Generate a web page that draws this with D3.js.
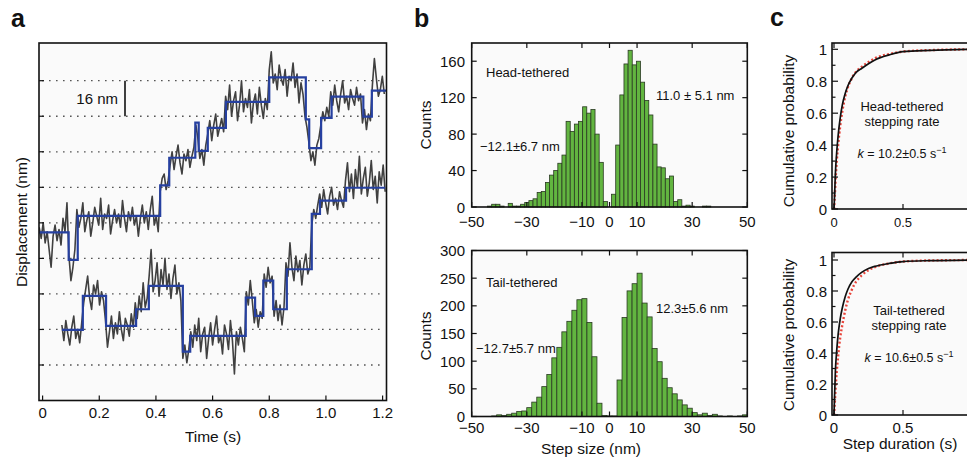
<!DOCTYPE html>
<html><head><meta charset="utf-8">
<script src="https://cdn.jsdelivr.net/npm/d3@7"></script>
<style>
body{margin:0;background:#fff}
text{font-family:"Liberation Sans",Arial,Helvetica,sans-serif;fill:#111}
</style>
</head><body>
<svg id="fig" width="967" height="464"></svg>
<script>
// ---------------- DATA ----------------
// Panel a: raw displacement traces (nm), uniform sampling
const trace1Start = -0.012, trace1Dt = 0.007;
const trace1 = [62,57,64,55,60,52,44,58,63,56,61,54,66,60,73,
  49,38,44,52,
  70,62,66,73,60,65,69,58,64,71,67,63,75,61,68,66,72,59,65,70,64,68,62,74,66,60,69,65,71,63,67,58,66,72,64,69,61,70,76,63,67,60,
  78,84,86,79,83,
  90,96,88,94,99,91,86,95,92,97,89,94,98,
  108,
  102,93,97,90,99,
  104,110,101,108,113,103,107,111,105,
  121,115,126,112,119,123,110,117,128,114,120,116,124,109,118,122,113,125,117,111,120,115,
  133,141,127,131,124,135,129,126,133,121,130,128,136,125,131,118,127,122,
  112,107,
  100,92,96,90,99,102,
  108,114,110,116,112,
  123,117,126,119,114,122,128,118,121,115,124,120,117,125,119,122,
  109,115,106,113,110,
  126,138,129,121,124,130,122];
const trace2Start = 0.068, trace2Dt = 0.007;
const trace2 = [18,11,20,14,9,17,22,12,16,10,19,
  28,34,40,30,25,36,32,38,27,33,29,
  20,8,15,22,12,19,14,24,16,11,21,18,13,23,17,
  28,21,31,24,37,26,30,
  40,52,33,38,46,31,43,36,48,34,41,30,39,45,32,37,29,
  3,9,1,7,
  15,8,18,11,21,6,14,17,3,12,19,9,16,22,10,13,5,18,14,7,20,11,-4,15,9,17,12,6,
  33,27,38,29,
  19,25,17,24,21,
  41,35,44,37,40,
  22,29,20,27,18,26,
  46,40,55,44,38,49,42,47,36,45,50,41,44,
  63,70,66,72,
  77,71,79,73,68,76,80,72,75,70,78,74,71,
  83,91,78,86,75,88,80,94,77,84,89,76,82,92,79,85,73,87,81,90,78];
// step fits (time of each step start, level in nm; last entry = trace end)
const fit1Time  = [-0.0127,0.092,0.124,0.415,0.447,0.539,0.551,0.583,0.647,0.800,0.929,0.941,0.983,1.020,1.132,1.162,1.214];
const fit1Level = [59.7,47.3,67.1,80.9,93.3,109.1,96.4,106.8,118.5,129.5,110.6,97.6,111.3,120.8,111.8,123.5,123.5];
const fit2Time  = [0.068,0.142,0.224,0.330,0.375,0.495,0.521,0.717,0.750,0.779,0.814,0.862,0.950,0.979,1.071,1.209];
const fit2Level = [15.8,31.1,17.6,25.1,35.6,6.0,13.1,30.3,22.1,38.0,25.1,43.1,68.0,74.0,79.8,79.8];
const timeTicks = [0,0.2,0.4,0.6,0.8,1.0,1.2];
const gridNm = [0,16,32,48,64,80,96,112,128];

// Panel b: step-size histograms
const headBinStart = -43.5, headBinWidth = 1.5;
const headCounts = [1,3,3,1,0,4,1,1,3,5, 7,9,16,17,27,35,40,48,57,94, 83,91,94,110,103,107,80,49,6,0,
  14,68,123,157,172,156,160,137,117,101, 69,44,43,31,34,6,8,1,2,1, 0,0,1,1];
const tailBinStart = -43.68, tailBinWidth = 1.82;
const tailCounts = [0,1,3,2,4,6,9,10,16,26, 35,54,76,106,125,153,172,192,211,213, 170,108,24,2,1,1,66,179,227,240,
  259,205,180,123,99,69,52,41,30,21, 15,7,3,6,2,4,1,0,1,0, 1,3];
const stepTicks = [-50,-30,-10,0,10,30,50];
const headYTicks = [0,40,80,120,160];
const tailYTicks = [0,50,100,150,200,250,300];

// Panel c: cumulative probability of step durations
const cdfHeadT = [0,0.004,0.01,0.02,0.03,0.045,0.06,0.08,0.1,0.13,0.16,0.2,0.25,0.3,0.4,0.5,0.7,1.0];
const cdfHeadP = [0,0.08,0.22,0.36,0.46,0.57,0.65,0.72,0.77,0.82,0.855,0.88,0.91,0.935,0.965,0.985,0.993,1.0];
const fitHeadT = [0,0.004,0.01,0.02,0.03,0.045,0.06,0.08,0.1,0.13,0.16,0.2,0.25,0.3,0.4,0.5,0.7,1.0];
const fitHeadP = [0,0.05,0.16,0.3,0.4,0.52,0.61,0.7,0.76,0.82,0.86,0.89,0.92,0.945,0.97,0.986,0.995,1.0];
const cdfTailT = [0,0.004,0.01,0.02,0.03,0.045,0.06,0.08,0.1,0.13,0.16,0.2,0.25,0.3,0.4,0.5,0.7,1.0];
const cdfTailP = [0,0.12,0.28,0.42,0.52,0.62,0.69,0.76,0.81,0.86,0.89,0.92,0.945,0.96,0.978,0.99,0.996,1.0];
const fitTailT = [0,0.004,0.01,0.02,0.03,0.045,0.06,0.08,0.1,0.13,0.16,0.2,0.25,0.3,0.4,0.5,0.7,1.0];
const fitTailP = [0,0.05,0.15,0.28,0.38,0.5,0.58,0.67,0.74,0.81,0.86,0.9,0.935,0.955,0.978,0.99,0.997,1.0];
const probTicks = [0,0.2,0.4,0.6,0.8,1];
const probMinor = [0.1,0.3,0.5,0.7,0.9];
const durTicks = [0,0.5,1];

// ---------------- DRAW ----------------
const svg = d3.select("#fig");
const BG = "#fafafa";

function frame(x0,y0,x1,y1){
  svg.append("rect").attr("x",x0).attr("y",y0).attr("width",x1-x0).attr("height",y1-y0)
    .attr("fill",BG).attr("stroke","none");
}
function border(x0,y0,x1,y1){
  svg.append("rect").attr("x",x0).attr("y",y0).attr("width",x1-x0).attr("height",y1-y0)
    .attr("fill","none").attr("stroke","#111").attr("stroke-width",1.6);
}
function ticksX(scale, vals, y, len){
  svg.append("g").selectAll("line").data(vals).join("line")
    .attr("x1",d=>scale(d)).attr("x2",d=>scale(d)).attr("y1",y).attr("y2",y+len)
    .attr("stroke","#111").attr("stroke-width",1.2);
}
function ticksY(scale, vals, x, len){
  svg.append("g").selectAll("line").data(vals).join("line")
    .attr("y1",d=>scale(d)).attr("y2",d=>scale(d)).attr("x1",x).attr("x2",x+len)
    .attr("stroke","#111").attr("stroke-width",1.2);
}
function labelsX(scale, vals, y, fmt, size){
  svg.append("g").selectAll("text").data(vals).join("text")
    .attr("x",d=>scale(d)).attr("y",y).attr("text-anchor","middle")
    .attr("dominant-baseline","central").attr("font-size",size||15).text(fmt);
}
function labelsY(scale, vals, x, fmt, size){
  svg.append("g").selectAll("text").data(vals).join("text")
    .attr("x",x).attr("y",d=>scale(d)).attr("text-anchor","end")
    .attr("dominant-baseline","central").attr("font-size",size||15).text(fmt);
}
function vlabel(text,x,y,size){
  svg.append("text").attr("transform",`translate(${x},${y}) rotate(-90)`)
    .attr("text-anchor","middle").attr("dominant-baseline","central")
    .attr("font-size",size||15.5).text(text);
}
function letter(t,x,y){
  svg.append("text").attr("x",x).attr("y",y).attr("font-size",25).attr("font-weight","bold").text(t);
}
const minus = s => String(s).replace("-","\u2212");

// ===== Panel a =====
const aL=39, aT=43, aR=386.5, aB=400.5;
const ax = d3.scaleLinear().domain([0,1.2]).range([42.6,382.6]);
const ay = d3.scaleLinear().domain([0,128]).range([365,80.7]);
frame(aL,aT,aR,aB);
svg.append("defs").append("clipPath").attr("id","clipA").append("rect")
  .attr("x",aL).attr("y",aT).attr("width",aR-aL).attr("height",aB-aT);
svg.append("g").selectAll("line").data(gridNm).join("line")
  .attr("x1",aL+3).attr("x2",aR-2).attr("y1",d=>ay(d)).attr("y2",d=>ay(d))
  .attr("stroke","#555").attr("stroke-width",1.3).attr("stroke-dasharray","1.6,5.4");
const gA = svg.append("g").attr("clip-path","url(#clipA)");
const rawLine = (start,dt)=>d3.line().x((d,i)=>ax(start+i*dt)).y(d=>ay(d));
gA.append("path").attr("d",rawLine(trace1Start,trace1Dt)(trace1)).attr("fill","none")
  .attr("stroke","#404040").attr("stroke-width",1.6).attr("stroke-linejoin","round");
gA.append("path").attr("d",rawLine(trace2Start,trace2Dt)(trace2)).attr("fill","none")
  .attr("stroke","#404040").attr("stroke-width",1.6).attr("stroke-linejoin","round");
const stepLine = d3.line().curve(d3.curveStepAfter).x(d=>ax(d[0])).y(d=>ay(d[1]));
gA.append("path").attr("d",stepLine(fit1Time.map((t,i)=>[t,fit1Level[i]]))).attr("fill","none")
  .attr("stroke","#2640a0").attr("stroke-width",2.2);
gA.append("path").attr("d",stepLine(fit2Time.map((t,i)=>[t,fit2Level[i]]))).attr("fill","none")
  .attr("stroke","#2640a0").attr("stroke-width",2.2);
ticksX(ax,timeTicks,aB,-5);
ticksY(ay,gridNm,aL,5);
border(aL,aT,aR,aB);
labelsX(ax,timeTicks,412,d=>d===0?"0":d3.format(".1f")(d));
svg.append("text").attr("x",213).attr("y",436).attr("text-anchor","middle")
  .attr("dominant-baseline","central").attr("font-size",15.5).text("Time (s)");
vlabel("Displacement (nm)",21,222);
// 16 nm scale bar
svg.append("line").attr("x1",125).attr("x2",125).attr("y1",ay(128)).attr("y2",ay(112))
  .attr("stroke","#111").attr("stroke-width",1.6);
svg.append("text").attr("x",118).attr("y",(ay(128)+ay(112))/2).attr("text-anchor","end")
  .attr("dominant-baseline","central").attr("font-size",15).text("16 nm");
letter("a",11,27);

// ===== Panel b =====
const bL=471.7, bR=747.3;
const bx = d3.scaleLinear().domain([-50,50]).range([bL,bR]);
function histogram(counts,start,width,yScale,yTicks,top,bottom){
  frame(bL,top,bR,bottom);
  const bins = counts.map((c,i)=>({c:start+i*width,n:c})).filter(d=>d.n>0);
  svg.append("g").selectAll("rect").data(bins).join("rect")
    .attr("x",d=>bx(d.c-width/2)).attr("width",d=>bx(d.c+width/2)-bx(d.c-width/2))
    .attr("y",d=>yScale(d.n)).attr("height",d=>yScale(0)-yScale(d.n))
    .attr("fill","#62b540").attr("stroke","#2a3a22").attr("stroke-width",0.8);
  ticksX(bx,stepTicks,bottom,-5);
  ticksX(bx,stepTicks,top,5);
  ticksY(yScale,yTicks,bL,5);
  ticksY(yScale,yTicks,bR,-5);
  border(bL,top,bR,bottom);
  labelsY(yScale,yTicks,465,d=>d);
}
const byTop = d3.scaleLinear().domain([0,180]).range([207,43]);
histogram(headCounts,headBinStart,headBinWidth,byTop,headYTicks,43,207);
labelsX(bx,stepTicks,221,minus);
const byBot = d3.scaleLinear().domain([0,300]).range([416.5,250.5]);
histogram(tailCounts,tailBinStart,tailBinWidth,byBot,tailYTicks,250.5,416.5);
labelsX(bx,stepTicks,427,minus);
vlabel("Counts",425,125);
vlabel("Counts",425,336);
svg.append("text").attr("x",591).attr("y",448).attr("text-anchor","middle")
  .attr("dominant-baseline","central").attr("font-size",15.5).text("Step size (nm)");
const ann = (t,x,y)=>svg.append("text").attr("x",x).attr("y",y).attr("font-size",13).text(t);
ann("Head-tethered",486,77);
ann("11.0 \u00b1 5.1 nm",656,100);
ann("\u221212.1\u00b16.7 nm",480,151);
ann("Tail-tethered",486,287);
ann("12.3\u00b15.6 nm",656,313);
ann("\u221212.7\u00b15.7 nm",476,353);
letter("b",414,27);

// ===== Panel c =====
const cL=832, cR=1000;
const cx = d3.scaleLinear().domain([0,1]).range([834,972]);
function cdfPanel(top,bottom,cy,dataT,dataP,fitT,fitP,title,kText,tx,ty,xLabY,xLabSize){
  frame(cL,top,cR,bottom);
  const ln = d3.line().curve(d3.curveMonotoneX).x(d=>cx(d[0])).y(d=>cy(d[1]));
  svg.append("path").attr("d",ln(fitT.map((t,i)=>[t,fitP[i]]))).attr("fill","none")
    .attr("stroke","#e8443a").attr("stroke-width",2.4).attr("stroke-dasharray","2,2.2");
  svg.append("path").attr("d",ln(dataT.map((t,i)=>[t,dataP[i]]))).attr("fill","none")
    .attr("stroke","#111").attr("stroke-width",1.7);
  ticksY(cy,probTicks,cL,6);
  ticksY(cy,probMinor,cL,3.5);
  ticksX(cx,durTicks,bottom,-5);
  ticksX(cx,durTicks,top,5);
  border(cL,top,cR,bottom);
  labelsY(cy,probTicks,827,d=>d===0||d===1?String(d):d3.format(".1f")(d));
  labelsX(cx,durTicks,xLabY,d=>String(d),xLabSize);
  const t = svg.append("text").attr("x",tx).attr("y",ty).attr("text-anchor","middle").attr("font-size",13);
  t.append("tspan").attr("x",tx).text(title);
  t.append("tspan").attr("x",tx).attr("dy",15).text("stepping rate");
  const k = svg.append("text").attr("x",tx).attr("y",ty+47).attr("text-anchor","middle").attr("font-size",12.5);
  k.append("tspan").attr("font-style","italic").text("k");
  k.append("tspan").text(" = "+kText+" s");
  k.append("tspan").attr("font-size",9).attr("dy",-5).text("\u22121");
}
const cyTop = d3.scaleLinear().domain([0,1]).range([209,49.3]);
cdfPanel(43,209,cyTop,cdfHeadT,cdfHeadP,fitHeadT,fitHeadP,"Head-tethered","10.2\u00b10.5",902,111,222,13);
const cyBot = d3.scaleLinear().domain([0,1]).range([415,260]);
cdfPanel(252.5,415,cyBot,cdfTailT,cdfTailP,fitTailT,fitTailP,"Tail-tethered","10.6\u00b10.5",909,315,427,15);
vlabel("Cumulative probability",788,131);
vlabel("Cumulative probability",788,335);
svg.append("text").attr("x",900).attr("y",443).attr("text-anchor","middle")
  .attr("dominant-baseline","central").attr("font-size",15.5).text("Step duration (s)");
letter("c",770,26);
</script>
</body></html>
